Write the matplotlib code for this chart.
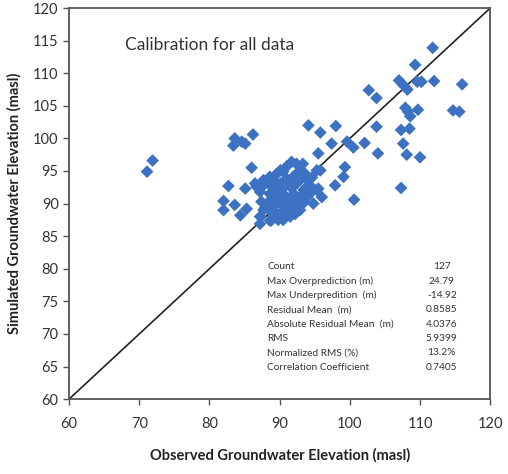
import matplotlib
matplotlib.use("Agg")
import matplotlib.pyplot as plt

plt.rcParams['font.family'] = ['Lato', 'DejaVu Sans']

# observed / simulated groundwater elevations (masl)
observed = [
    71.9, 71.1, 83.6, 84.6, 83.4, 85.1, 86.2, 86.0, 82.7, 82.0,
    82.0, 83.6, 84.4, 85.3, 85.1, 86.7, 87.2, 88.6, 89.8, 86.5,
    87.2, 87.4, 87.9, 89.1, 90.1, 91.0, 91.7, 92.4, 92.9, 93.6,
    95.3, 93.3, 95.5, 95.5, 96.0, 97.9, 97.4, 99.6, 100.5, 102.1,
    104.0, 99.3, 99.1, 100.6, 94.1, 95.8, 98.0, 103.8, 107.3, 108.5,
    107.6, 108.1, 110.0, 107.3, 102.7, 103.8, 107.9, 108.3, 109.7, 108.6,
    114.7, 115.6, 107.0, 107.6, 108.2, 109.6, 110.2, 112.0, 116.0, 109.3,
    111.8, 95.8,
    87.7, 88.6, 89.6, 90.5, 91.0, 89.1, 90.1, 91.5, 92.4, 93.4,
    94.3, 93.9, 92.9, 92.0, 90.5, 89.6, 88.6, 88.2, 89.1, 90.1,
    91.0, 92.0, 92.9, 91.5, 90.1, 89.1, 90.5, 87.7, 87.2, 94.3,
    94.8, 95.3,
    88.5, 89.3, 90.3, 91.3, 92.0, 93.0, 91.8, 90.8, 89.9, 88.9,
    91.5, 92.4, 93.5, 90.6, 89.4, 88.4, 91.2, 92.2, 93.2, 94.0,
    87.5, 88.8, 94.6,
]
simulated = [
    96.6, 94.9, 100.0, 99.5, 98.9, 99.2, 100.6, 95.5, 92.7, 90.4,
    89.0, 89.8, 88.2, 89.2, 92.3, 92.6, 86.9, 87.4, 87.5, 93.1,
    91.8, 90.3, 89.3, 93.6, 95.1, 95.7, 96.4, 96.1, 95.1, 94.6,
    95.1, 96.1, 97.7, 92.3, 91.0, 92.8, 99.2, 99.5, 98.6, 99.3,
    97.7, 95.6, 94.1, 90.6, 102.0, 100.9, 101.9, 101.8, 101.3, 101.5,
    99.2, 97.5, 97.1, 92.4, 107.4, 106.2, 104.7, 104.1, 104.4, 103.4,
    104.3, 104.1, 108.9, 108.2, 107.5, 108.7, 108.7, 108.8, 108.3, 111.3,
    113.9, 95.1,
    93.6, 94.1, 94.6, 94.9, 93.8, 92.6, 93.1, 92.6, 93.1, 92.1,
    92.8, 91.0, 90.5, 91.5, 91.5, 91.0, 91.5, 90.0, 89.5, 90.0,
    89.5, 89.0, 89.0, 88.0, 88.5, 88.0, 87.5, 89.0, 88.0, 91.5,
    90.0, 92.1,
    93.0, 92.0, 92.2, 93.2, 94.2, 93.8, 91.0, 90.6, 90.5, 90.8,
    89.8, 90.0, 90.2, 89.0, 88.6, 89.2, 88.6, 88.4, 91.3, 93.5,
    92.6, 87.4, 94.0,
]

stat_names = ["Count", "Max Overprediction (m)", "Max Underpredition  (m)",
              "Residual Mean  (m)", "Absolute Residual Mean  (m)", "RMS",
              "Normalized RMS (%)", "Correlation Coefficient"]
stat_values = ["127", "24.79", "-14.92", "0.8585", "4.0376", "5.9399",
               "13.2%", "0.7405"]

fig = plt.figure(figsize=(5.08, 4.74), dpi=100)
ax = fig.add_axes([0.136, 0.158, 0.829, 0.825])

# 1:1 line
ax.plot([60, 120], [60, 120], color='#222222', lw=1.2, zorder=2)
ax.scatter(observed, simulated, marker='D', s=42, color='#3d72c2',
           edgecolors='none', zorder=3)

ax.set_xlim(60, 120)
ax.set_ylim(60, 120)
ax.set_xticks(range(60, 121, 10))
ax.set_yticks(range(60, 121, 5))
ax.tick_params(direction='out', length=4, width=1, colors='#555555',
               labelcolor='#333333', labelsize=10.5)
ax.tick_params(axis='x', pad=9)
for s in ax.spines.values():
    s.set_color('#555555')
    s.set_linewidth(1.3)

ax.set_xlabel("Observed Groundwater Elevation (masl)", fontsize=10.5,
              fontweight='bold', color='#222222', labelpad=12)
ax.set_ylabel("Simulated Groundwater Elevation (masl)", fontsize=10.5,
              fontweight='bold', color='#222222', labelpad=8)

ax.text(68, 114.3, "Calibration for all data", fontsize=12.5,
        color='#333333', va='center', ha='left')

# statistics table
for i, (name, val) in enumerate(zip(stat_names, stat_values)):
    y = 80.3 - i * 2.2
    ax.text(88.2, y, name, fontsize=7.3, color='#333333', va='center', ha='left')
    ax.text(113.1, y, val, fontsize=7.3, color='#333333', va='center', ha='center')

fig.savefig("out.png", dpi=100)
